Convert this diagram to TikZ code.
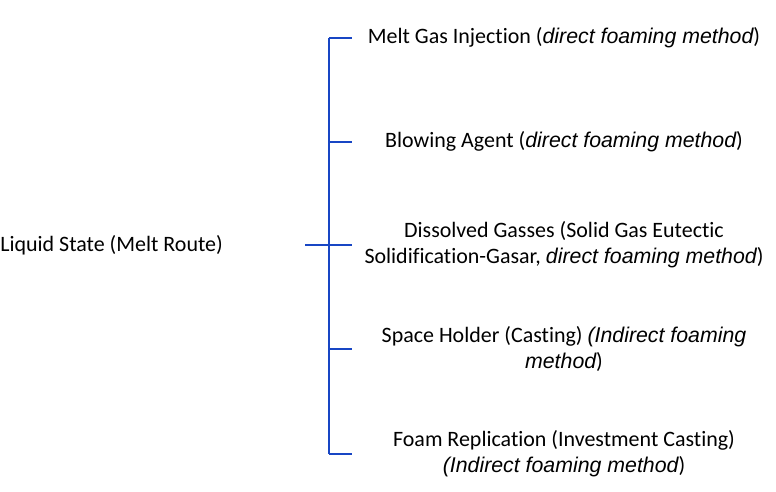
\documentclass[tikz,border=0pt]{standalone}
\usepackage{fontspec}
\setmainfont{Carlito}[Ligatures={NoCommon}]
\newfontfamily\methodfont{Liberation Sans}[Scale=0.97]
\usetikzlibrary{positioning}
\definecolor{treeblue}{RGB}{24,70,196}
\newcommand{\meth}[1]{{\methodfont\itshape #1}}
\tikzset{
    branch/.style={draw=treeblue, line width=1.3pt},
    route/.style={
        inner sep=0pt, align=center,
        font=\fontsize{12.5}{14.8}\selectfont
    },
    method/.style={
        inner sep=0pt, align=center,
        font=\fontsize{12.5}{14.8}\selectfont
    }
}
\begin{document}
\begin{tikzpicture}

\useasboundingbox (0,0) rectangle (15.52,-9.84);

% Root
\node[route, anchor=west] (root) at (0,-4.90) {Liquid State (Melt Route)};

% Bracket
\coordinate (top) at (6.58,-0.76);
\coordinate (bot) at (6.58,-9.08);
\coordinate (mid) at (6.58,-4.90);
\coordinate (stem) at (6.10,-4.90);
\draw[branch] (top) -- (bot);
\draw[branch] (stem) -- (mid);

% Methods
\node[method] (m1) at (11.28,-0.76) {Melt Gas Injection (\meth{direct foaming method})};
\node[method] (m2) at (11.28,-2.84) {Blowing Agent (\meth{direct foaming method})};
\node[method] (m3) at (11.28,-4.90) {Dissolved Gasses (Solid Gas Eutectic\\Solidification-Gasar, \meth{direct foaming method})};
\node[method] (m4) at (11.28,-6.98) {Space Holder (Casting) \meth{(Indirect foaming}\\\meth{method})};
\node[method] (m5) at (11.28,-9.08) {Foam Replication (Investment Casting)\\\meth{(Indirect foaming method})};

% Ticks
\foreach \m in {m1,m2,m3,m4,m5}
    \draw[branch] (6.58,0 |- \m) -- (7.04,0 |- \m);

\end{tikzpicture}
\end{document}
